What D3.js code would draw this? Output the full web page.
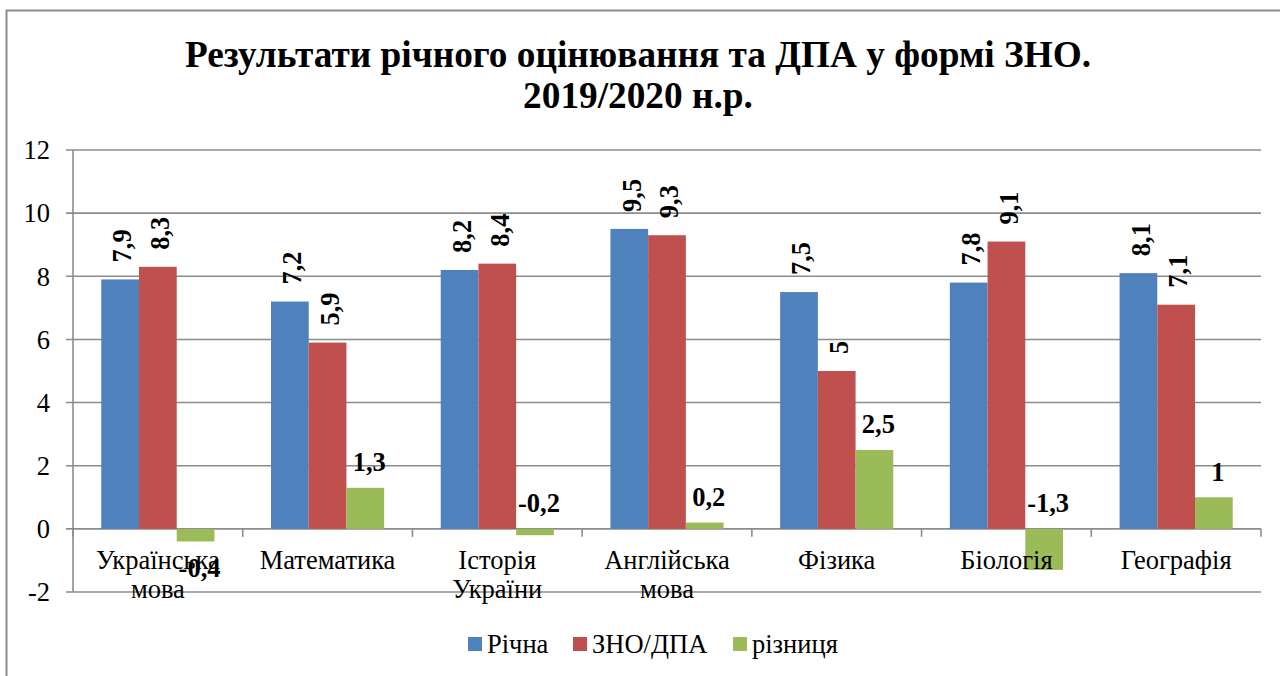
<!DOCTYPE html>
<html>
<head>
<meta charset="utf-8">
<script src="https://cdn.jsdelivr.net/npm/d3@7"></script>
<style>
  body { margin: 0; background: #fff; }
</style>
</head>
<body>
<svg id="chart" width="1280" height="676"></svg>
<script>
// data
const categories = ["Українська мова", "Математика", "Історія України", "Англійська мова", "Фізика", "Біологія", "Географія"];
const seriesNames = ["Річна", "ЗНО/ДПА", "різниця"];
const richna = [7.9, 7.2, 8.2, 9.5, 7.5, 7.8, 8.1];
const zno = [8.3, 5.9, 8.4, 9.3, 5, 9.1, 7.1];
const riznytsia = [-0.4, 1.3, -0.2, 0.2, 2.5, -1.3, 1];
const yTicks = [-2, 0, 2, 4, 6, 8, 10, 12];
const titleLines = ["Результати річного оцінювання та ДПА у формі ЗНО.", "2019/2020 н.р."];

const colors = ["#4F81BD", "#C0504D", "#9BBB59"];
const values = [richna, zno, riznytsia];
const serif = "Liberation Serif";
const fs = 26.5;

const svg = d3.select("#chart");
const plot = { left: 73, right: 1261, top: 150, bottom: 592 };

// outer frame (runs off the right/bottom edge like the source)
svg.append("rect")
    .attr("x", 6.5).attr("y", 10.5)
    .attr("width", 1300).attr("height", 700)
    .attr("fill", "none")
    .attr("stroke", "#8c8c8c")
    .attr("stroke-width", 2);

// title
svg.selectAll("text.title")
    .data(titleLines)
    .join("text")
    .attr("class", "title")
    .attr("text-anchor", "middle")
    .attr("font-weight", "bold")
    .attr("font-size", 37.3)
    .attr("font-family", serif)
    .attr("x", 638)
    .attr("y", (d, i) => 67 + i * 41)
    .text(d => d);

const y = d3.scaleLinear().domain([-2, 12]).range([plot.bottom, plot.top]);
const x0 = d3.scaleBand().domain(categories).range([plot.left, plot.right]);
const bw = x0.bandwidth();
const barW = bw / 4.5;
const x1 = d3.scaleBand().domain(seriesNames)
    .range([barW * 0.75, bw - barW * 0.75]);

// gridlines
svg.append("g")
    .selectAll("line")
    .data(yTicks)
    .join("line")
    .attr("x1", plot.left - 7).attr("x2", plot.right)
    .attr("y1", d => y(d)).attr("y2", d => y(d))
    .attr("stroke", "#8c8c8c")
    .attr("stroke-width", 1.6);

// y axis line
svg.append("line")
    .attr("x1", plot.left).attr("x2", plot.left)
    .attr("y1", plot.top).attr("y2", plot.bottom)
    .attr("stroke", "#8c8c8c").attr("stroke-width", 1.6);

// y tick labels
svg.append("g")
    .selectAll("text")
    .data(yTicks)
    .join("text")
    .attr("font-size", fs)
    .attr("font-family", serif)
    .attr("text-anchor", "end")
    .attr("x", plot.left - 23)
    .attr("y", d => y(d))
    .attr("dy", "0.35em")
    .text(d => d);

// bars
const groups = svg.append("g")
    .selectAll("g")
    .data(categories)
    .join("g")
    .attr("transform", d => "translate(" + x0(d) + ",0)");

groups.selectAll("rect")
    .data((d, i) => seriesNames.map((s, j) => ({ s: s, j: j, v: values[j][i] })))
    .join("rect")
    .attr("x", d => x1(d.s))
    .attr("width", x1.bandwidth())
    .attr("y", d => y(Math.max(0, d.v)))
    .attr("height", d => Math.abs(y(d.v) - y(0)))
    .attr("fill", d => colors[d.j]);

// category ticks on the zero line
svg.append("g")
    .selectAll("line")
    .data(d3.range(categories.length + 1))
    .join("line")
    .attr("x1", i => plot.left + i * bw).attr("x2", i => plot.left + i * bw)
    .attr("y1", y(0)).attr("y2", y(0) + 8)
    .attr("stroke", "#8c8c8c").attr("stroke-width", 1.6);

// category labels, one text per line
const catLines = [];
categories.forEach(c => c.split(" ").forEach((w, i) => catLines.push({ c: c, w: w, i: i })));
svg.append("g")
    .selectAll("text")
    .data(catLines)
    .join("text")
    .attr("font-size", fs)
    .attr("font-family", serif)
    .attr("text-anchor", "middle")
    .attr("x", d => x0(d.c) + bw / 2)
    .attr("y", d => 569 + d.i * 29)
    .text(d => d.w);

const fmt = v => String(v).replace(".", ",");

// rotated value labels for Річна and ЗНО/ДПА
[0, 1].forEach(j => {
    svg.append("g")
        .selectAll("text")
        .data(categories)
        .join("text")
        .attr("font-size", fs)
        .attr("font-weight", "bold")
        .attr("font-family", serif)
        .attr("transform", (d, i) => {
            const cx = x0(d) + x1(seriesNames[j]) + x1.bandwidth() / 2 + 2;
            return "translate(" + cx + "," + (y(values[j][i]) - 17) + ") rotate(-90)";
        })
        .attr("dy", "0.35em")
        .text((d, i) => fmt(values[j][i]));
});

// labels for різниця: the ones Excel pushed above the zero line
const liftedAbove = [2, 5];
svg.append("g")
    .selectAll("text")
    .data(categories)
    .join("text")
    .attr("font-size", fs)
    .attr("font-weight", "bold")
    .attr("font-family", serif)
    .attr("text-anchor", "middle")
    .attr("x", d => x0(d) + x1(seriesNames[2]) + x1.bandwidth() / 2 + 4)
    .attr("y", (d, i) => {
        const v = riznytsia[i];
        if (v >= 0) return y(v) - 26;
        if (liftedAbove.includes(i)) return y(0) - 26;
        return y(v) + 26;
    })
    .attr("dy", "0.35em")
    .text((d, i) => fmt(riznytsia[i]));

// legend
const legendX = d3.scaleOrdinal().domain(seriesNames).range([468, 573, 733]);
const legend = svg.append("g")
    .selectAll("g")
    .data(seriesNames)
    .join("g")
    .attr("transform", d => "translate(" + legendX(d) + ",637)");
legend.append("rect")
    .attr("width", 14).attr("height", 14)
    .attr("fill", (d, j) => colors[j]);
legend.append("text")
    .attr("font-size", fs)
    .attr("font-family", serif)
    .attr("x", 19).attr("y", 7)
    .attr("dy", "0.35em")
    .text(d => d);
</script>
</body>
</html>
